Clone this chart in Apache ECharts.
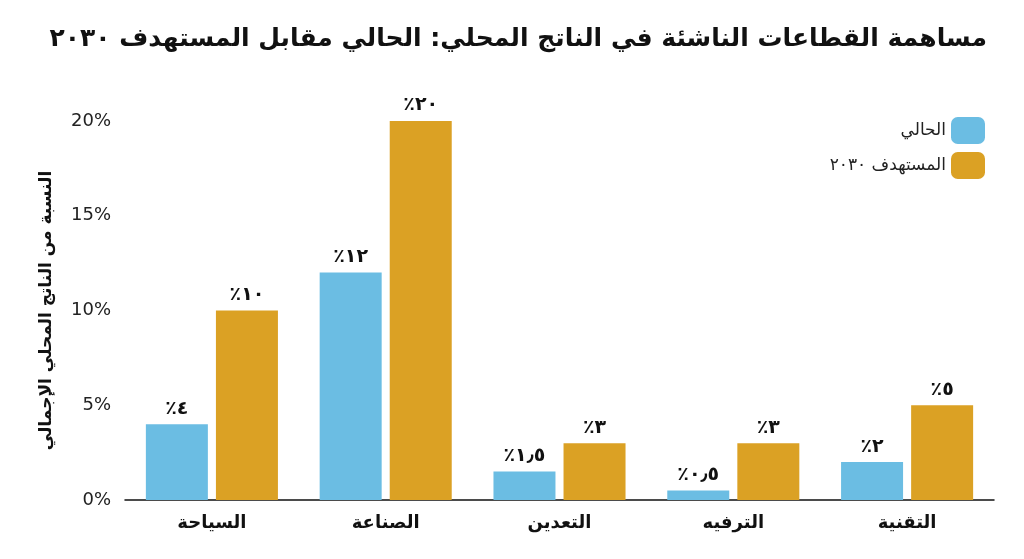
<!DOCTYPE html>
<html lang="ar">
<head>
<meta charset="UTF-8">
<title>مساهمة القطاعات الناشئة</title>
<script src="https://cdn.jsdelivr.net/npm/echarts@6/dist/echarts.min.js"></script>
<style>
    html, body { margin: 0; padding: 0; background: #fff; }
    #charts { width: 1024px; height: 559px; }
</style>
</head>
<body>
<div id="charts"></div>
<script>
    var categories = ['السياحة', 'الصناعة', 'التعدين', 'الترفيه', 'التقنية'];
    var currentValues = [4, 12, 1.5, 0.5, 2];
    var targetValues = [10, 20, 3, 3, 5];
    var currentLabels = ['٪٤', '٪١٢', '٪١٫٥', '٪٠٫٥', '٪٢'];
    var targetLabels = ['٪١٠', '٪٢٠', '٪٣', '٪٣', '٪٥'];
    var yTicks = [0, 5, 10, 15, 20];

    var font = "'DejaVu Sans', 'Noto Sans', sans-serif";
    var myChart = echarts.init(document.getElementById('charts'));

    function labelOf(arr) {
        return {
            show: true, position: 'top', distance: 6,
            color: '#111', fontSize: 19, fontWeight: 'bold', fontFamily: font,
            formatter: function (p) { return arr[p.dataIndex]; }
        };
    }

    var option = {
        title: {
            text: 'مساهمة القطاعات الناشئة في الناتج المحلي: الحالي مقابل المستهدف ٢٠٣٠',
            right: 32, top: 22,
            textStyle: { fontSize: 25, fontWeight: 'bold', color: '#111', fontFamily: font }
        },
        legend: {
            orient: 'vertical', right: 34, top: 112, align: 'right',
            itemWidth: 34, itemHeight: 27, itemGap: 8,
            textStyle: { fontSize: 17, color: '#222', fontFamily: font },
            data: ['الحالي', 'المستهدف ٢٠٣٠']
        },
        grid: { left: 125, right: 30, top: 121, bottom: 59 },
        xAxis: {
            type: 'category', data: categories,
            axisLine: { lineStyle: { color: '#111', width: 1.5 } },
            axisTick: { show: false },
            axisLabel: { color: '#111', fontSize: 18, fontWeight: 'bold', fontFamily: font, margin: 14 }
        },
        yAxis: {
            type: 'value', min: yTicks[0], max: yTicks[yTicks.length - 1], interval: 5,
            name: 'النسبة من الناتج المحلي الإجمالي', nameLocation: 'middle', nameGap: 70,
            nameTextStyle: { fontSize: 17, fontWeight: 'bold', color: '#111', fontFamily: font },
            axisLine: { show: false }, axisTick: { show: false },
            splitLine: { show: false },
            axisLabel: { color: '#222', fontSize: 18, fontFamily: font, margin: 14, formatter: '{value}%' }
        },
        series: [
            {
                name: 'الحالي', type: 'bar', data: currentValues, barWidth: 62, barGap: '13%',
                itemStyle: { color: '#6BBDE3' }, label: labelOf(currentLabels)
            },
            {
                name: 'المستهدف ٢٠٣٠', type: 'bar', data: targetValues, barWidth: 62,
                itemStyle: { color: '#DBA124' }, label: labelOf(targetLabels)
            }
        ]
    };
    myChart.setOption(option);
</script>
</body>
</html>
